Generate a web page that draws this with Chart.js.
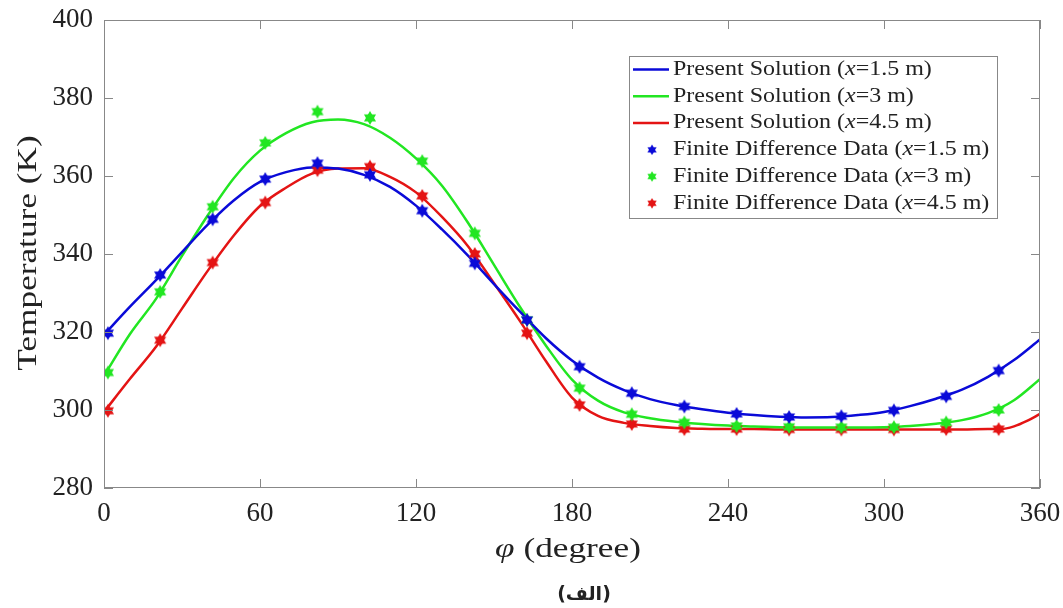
<!DOCTYPE html>
<html>
<head>
<meta charset="utf-8">
<script src="https://cdn.jsdelivr.net/npm/chart.js@4/dist/chart.umd.min.js"></script>
<style>
  body { margin: 0; background: #fff; }
  #wrap { width: 1063px; height: 608px; }
</style>
</head>
<body>
<div id="wrap"><canvas id="mycanvas"></canvas></div>
<script>
// Angles of the analytic curves (degree)
var curveAngle = [0,10,20,30,40,50,60,70,80,90,100,110,120,130,140,150,160,170,180,
                  190,200,210,220,230,240,250,260,270,280,290,300,310,320,330,340,350,360];
var redAngle = [0,10,20,30,40,50,60,70,80,90,100,110,120,130,140,150,160,170,180,
                190,200,210,220,230,240,250,260,270,280,290,300,310,320,330,340,345,350,355,360];

// Present solution (K)
var blueCurve = [319.3,326.5,333.3,340.5,347.6,353.8,358.5,361,362.2,361.9,360.3,357.2,352.4,346.3,339.6,332.3,325.2,318.4,312.7,
                 308.3,305.1,302.8,301.3,300.2,299.3,298.7,298.3,298.1,298.2,298.7,299.5,301,302.9,305.2,308.5,312.8,318.1];
var greenCurve = [308.8,319.5,328.5,339.5,350,359.5,366.5,371,373.8,374.5,373.3,369.8,364.5,357.5,348,337.2,326.4,316.5,307.8,
                  302.4,299.4,297.9,297,296.4,296,295.8,295.6,295.5,295.5,295.5,295.6,295.9,296.5,297.4,299.2,302.5,307.9];
var redCurve = [299.5,308,316.2,326,335.8,344.8,352.3,357,360.6,361.9,362,359.8,355.8,349.5,342,332.5,322.8,312.5,303.2,
                298.5,296.7,295.9,295.4,295.2,295.1,295.1,295,295,295,295,295,295,295,295,295.1,295.1,295.8,297.2,299];

// Finite difference data
var markerAngle = [1.5,21.6,41.8,62,82.1,102.3,122.4,142.6,162.7,182.9,203,223.2,243.3,263.5,283.6,303.8,323.9,344.1];
var blueFD = [319.7,334.6,348.9,359.2,363.3,360.3,351.1,337.6,323.1,311.1,304.3,300.9,299.0,298.2,298.4,299.9,303.5,310.1];
var greenFD = [309.6,330.3,352.1,368.5,376.5,374.9,363.8,345.3,323.1,305.6,298.9,296.8,295.9,295.7,295.6,295.6,296.8,300.0];
var redFD = [299.8,317.9,337.8,353.2,361.5,362.4,354.9,340.0,319.7,301.3,296.4,295.1,295.1,295.0,295.0,295.0,295.1,295.1];

var xTicks = [0,60,120,180,240,300,360];
var yTicks = [280,300,320,340,360,380,400];
var seriesNames = ['x=1.5 m','x=3 m','x=4.5 m'];
var colors = ['#0a0ad8','#22e622','#e41414'];

var SERIF = '"Liberation Serif", "DejaVu Serif", serif';

function pts(xs, ys)
{
  var out = [];
  for (var i = 0; i < xs.length; i++) out.push({x: xs[i], y: ys[i]});
  return out;
}

// six pointed star used as marker
function hexagram(color)
{
  var c = document.createElement('canvas');
  c.width = 16; c.height = 16;
  var g = c.getContext('2d');
  g.fillStyle = color;
  for (var t = 0; t < 2; t++)
  {
    g.beginPath();
    for (var k = 0; k < 3; k++)
    {
      var a = -Math.PI / 2 + t * Math.PI + k * 2 * Math.PI / 3;
      var px = 8 + 7 * Math.cos(a), py = 8 + 7 * Math.sin(a);
      if (k == 0) g.moveTo(px, py); else g.lineTo(px, py);
    }
    g.closePath();
    g.fill();
  }
  return c;
}
var stars = colors.map(hexagram);

var curves = [pts(curveAngle, blueCurve), pts(curveAngle, greenCurve), pts(redAngle, redCurve)];
var fds = [pts(markerAngle, blueFD), pts(markerAngle, greenFD), pts(markerAngle, redFD)];

var datasets = [];
for (var i = 0; i < 3; i++)
{
  datasets.push({
    label: 'Present Solution (' + seriesNames[i] + ')',
    data: curves[i],
    borderColor: colors[i],
    borderWidth: 2.5,
    pointRadius: 0,
    cubicInterpolationMode: 'monotone',
    fill: false,
    order: 2
  });
}
for (var i = 0; i < 3; i++)
{
  datasets.push({
    label: 'Finite Difference Data (' + seriesNames[i] + ')',
    data: fds[i],
    showLine: false,
    pointStyle: stars[i],
    pointRadius: 7,
    order: 1
  });
}

// draws text pieces [text, italic] stretched a bit sideways (wide TeX look)
function wideText(ctx, parts, x, y, size, hs, align)
{
  var widths = parts.map(function(p)
  {
    ctx.font = (p[1] ? 'italic ' : '') + size + 'px ' + SERIF;
    return ctx.measureText(p[0]).width;
  });
  var total = widths.reduce(function(s, w) { return s + w; }, 0);
  ctx.save();
  ctx.translate(x, y);
  ctx.scale(hs, 1);
  var cx = align == 'center' ? -total / 2 : 0;
  ctx.textAlign = 'left';
  ctx.textBaseline = 'middle';
  parts.forEach(function(p, i)
  {
    ctx.font = (p[1] ? 'italic ' : '') + size + 'px ' + SERIF;
    ctx.fillText(p[0], cx, 0);
    cx += widths[i];
  });
  ctx.restore();
}

// frame, inward ticks, titles, legend
var decor = {
  id: 'decor',
  afterDraw: function(chart)
  {
    var ctx = chart.ctx, a = chart.chartArea;
    var xs = chart.scales.x, ys = chart.scales.y;
    ctx.save();
    ctx.strokeStyle = '#888';
    ctx.lineWidth = 1;
    ctx.strokeRect(a.left + 0.5, a.top + 0.5, a.right - a.left - 1, a.bottom - a.top - 1);
    ctx.beginPath();
    xTicks.forEach(function(v)
    {
      var px = Math.round(xs.getPixelForValue(v)) + 0.5;
      ctx.moveTo(px, a.bottom); ctx.lineTo(px, a.bottom - 9);
      ctx.moveTo(px, a.top); ctx.lineTo(px, a.top + 9);
    });
    yTicks.forEach(function(v)
    {
      var py = Math.round(ys.getPixelForValue(v)) + 0.5;
      ctx.moveTo(a.left, py); ctx.lineTo(a.left + 9, py);
      ctx.moveTo(a.right, py); ctx.lineTo(a.right - 9, py);
    });
    ctx.stroke();

    // axis titles
    ctx.fillStyle = '#222';
    ctx.save();
    ctx.translate(29, 253);
    ctx.rotate(-Math.PI / 2);
    wideText(ctx, [['Temperature (K)', false]], 0, 0, 28, 1.26, 'center');
    ctx.restore();
    wideText(ctx, [['φ', true], [' (degree)', false]], 568, 550, 28, 1.26, 'center');

    // caption
    ctx.textAlign = 'center';
    ctx.textBaseline = 'middle';
    ctx.font = 'bold 19px "DejaVu Sans", sans-serif';
    ctx.fillText('(الف)', 584, 595);

    // legend box
    var bx = 629, by = 56, bw = 368, bh = 162;
    ctx.fillStyle = '#fff';
    ctx.fillRect(bx, by, bw, bh);
    ctx.strokeStyle = '#888';
    ctx.strokeRect(bx + 0.5, by + 0.5, bw, bh);
    var rowY = [69.5, 96.3, 123, 149.8, 176.5, 203.3];
    for (var r = 0; r < 6; r++)
    {
      var ci = r % 3, y = rowY[r];
      if (r < 3)
      {
        ctx.strokeStyle = colors[ci];
        ctx.lineWidth = 2.5;
        ctx.beginPath(); ctx.moveTo(633, y); ctx.lineTo(669, y); ctx.stroke();
      }
      else
      {
        ctx.drawImage(stars[ci], 652 - 6, y - 6, 12, 12);
      }
      var head = r < 3 ? 'Present Solution (' : 'Finite Difference Data (';
      var tail = seriesNames[ci].substring(1) + ')';
      ctx.fillStyle = '#222';
      wideText(ctx, [[head, false], ['x', true], [tail, false]], 673, y, 20, 1.2, 'left');
    }
    ctx.restore();
  }
};

var ctx = document.getElementById('mycanvas');
var lineGraph = new Chart(ctx,
{
  type: 'line',
  data: { datasets: datasets },
  options: {
    responsive: true,
    maintainAspectRatio: false,
    animation: false,
    layout: { padding: { left: 0, top: 20, right: 23, bottom: 0 } },
    plugins: { legend: { display: false }, tooltip: { enabled: false } },
    scales: {
      x: {
        type: 'linear', min: 0, max: 360,
        afterFit: function(s) { s.height = 120; s.paddingLeft = 0; s.paddingRight = 0; },
        afterBuildTicks: function(s) { s.ticks = xTicks.map(function(v) { return {value: v}; }); },
        grid: { display: false, drawTicks: false },
        border: { display: false },
        ticks: { color: '#222', padding: 10, maxRotation: 0, font: { family: SERIF, size: 27 } }
      },
      y: {
        type: 'linear', min: 280, max: 400,
        afterFit: function(s) { s.width = 104; s.paddingTop = 0; s.paddingBottom = 0; },
        afterBuildTicks: function(s) { s.ticks = yTicks.map(function(v) { return {value: v}; }); },
        grid: { display: false, drawTicks: false },
        border: { display: false },
        ticks: { color: '#222', padding: 11, font: { family: SERIF, size: 27 } }
      }
    }
  },
  plugins: [decor]
});
</script>
</body>
</html>
